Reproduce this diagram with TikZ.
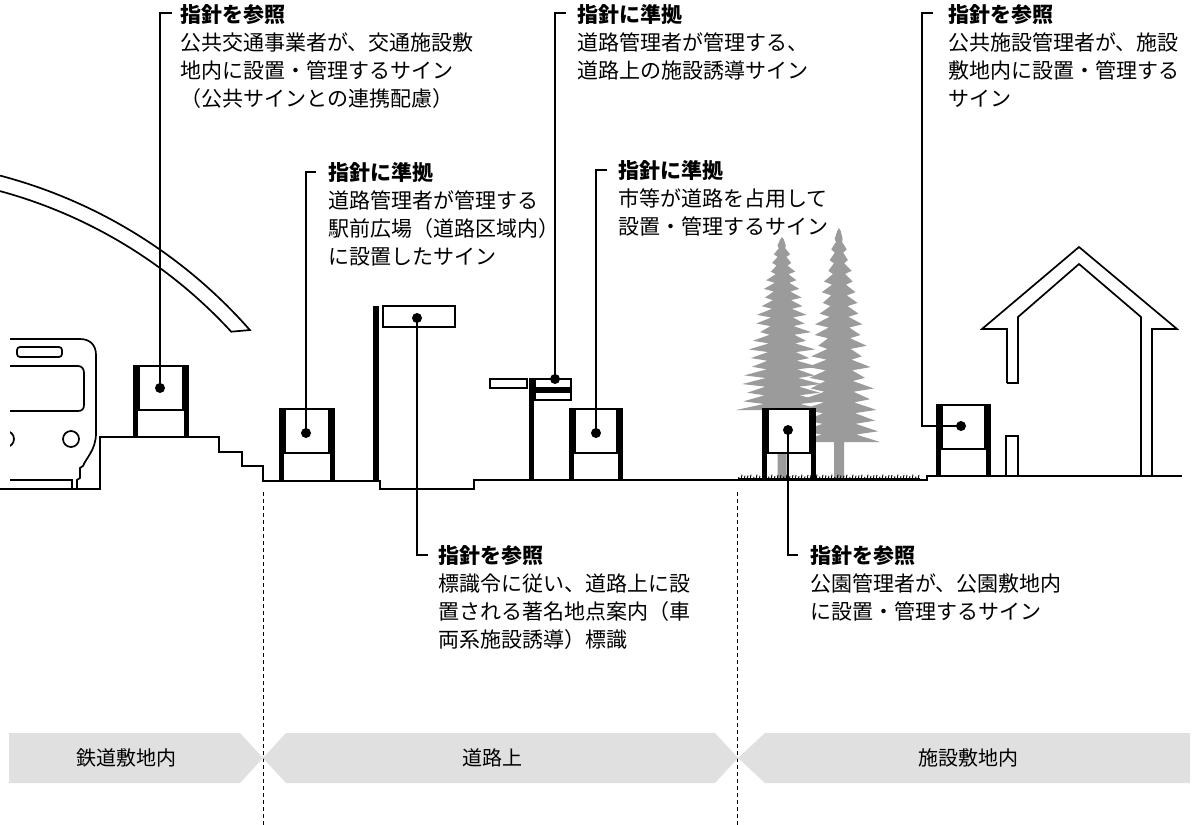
\documentclass[tikz,border=0pt]{standalone}
\usepackage{fontspec}
\newfontfamily\jp{Noto Sans CJK JP}
\definecolor{bandgray}{RGB}{224,224,224}
\definecolor{treegray}{RGB}{155,155,155}

% sign unit: left post x, right post x, top, bottom, panel bottom
\newcommand\signunit[5]{%
  \fill (#1,#3) rectangle ({#1+5},#4);
  \fill ({#2-5},#3) rectangle (#2,#4);
  \draw[panel] ({#1+6},{#3+1}) rectangle ({#2-6},#5);
}
% spruce silhouette: centre x, top, foliage bottom, half width, trunk bottom, trunk half width
\newcommand\spruce[6]{%
  \fill[treegray] (#1,#2)
    \foreach \k in {1,...,20}{
      -- ({#1-0.45*#4*(\k/20)^0.75},{#2+(#3-#2)*(\k-0.7)/20})
      -- ({#1-#4*(\k/20)^0.75*(0.85+0.3*abs(sin(\k*131)))},{#2+(#3-#2)*\k/20})}
    -- ({#1-#6},#3) -- ({#1-#6},#5) -- ({#1+#6},#5) -- ({#1+#6},#3)
    \foreach \k in {20,...,1}{
      -- ({#1+#4*(\k/20)^0.75*(0.85+0.3*abs(cos(\k*97)))},{#2+(#3-#2)*\k/20})
      -- ({#1+0.45*#4*(\k/20)^0.75},{#2+(#3-#2)*(\k-0.7)/20})}
    -- cycle;
}

\begin{document}
\begin{tikzpicture}[x=1pt,y=-1pt,
  outline/.style={line width=1.7pt},
  ground/.style={line width=2pt},
  panel/.style={draw=black,line width=1.7pt,fill=white},
  dot/.style={circle,fill=black,inner sep=0pt,minimum size=10pt},
  leader/.style={line width=1.3pt},
  note/.style={anchor=base west,inner sep=0pt,font=\jp\fontsize{21}{28}\selectfont},
  bandtext/.style={inner sep=0pt,font=\jp\fontsize{20}{24}\selectfont},
  zone/.style={dash pattern=on 4pt off 3pt,line width=0.9pt}
]
\fill[white] (0,0) rectangle (1192,825);
\useasboundingbox (0,0) rectangle (1192,825);

% station canopy
\draw[outline] plot[domain=-75.25:-41.3,samples=70] ({-128+503*cos(\x)},{662+503*sin(\x)})
  -- plot[domain=-42.6:-74.8,samples=70] ({-128+488*cos(\x)},{662+488*sin(\x)});

% train front
\draw[outline] (10,339) -- (80,339) .. controls (90,339) and (96,345) .. (96,355)
  -- (96,433) .. controls (96,450) and (86,458) .. (83,466) -- (80,468) -- (80,478) -- (77,480) -- (77,489);
\draw[outline,rounded corners=3pt] (17,347) rectangle (62,357);
\draw[outline] (10,366) -- (78,366) .. controls (82,366) and (84,369) .. (84,373)
  -- (84,405) .. controls (84,409) and (82,411) .. (78,411) -- (10,411);
\draw[outline] (71,439) circle[radius=8];
\begin{scope}
  \clip (10,425) rectangle (30,455);
  \draw[outline] (6,439) circle[radius=8];
\end{scope}
\draw[outline] (10,480) -- (72,480) -- (72,489);

% trees
\spruce{782}{237}{410}{40}{479}{4.5}
\spruce{839}{228}{442}{38}{479}{5}

% house
\draw[outline] (1007,383) -- (1007,329) -- (982,329) -- (1079,247) -- (1177,329) -- (1152,329) -- (1152,476);
\draw[outline] (1007,383) -- (1018,383) -- (1018,317) -- (1079,264) -- (1141,317) -- (1141,476);
\draw[outline] (1006,476) -- (1006,436) -- (1018,436) -- (1018,476);

% ground profile
\draw[ground] (0,489) -- (100,489) -- (100,437) -- (219,437) -- (219,452) -- (242,452) -- (242,466)
  -- (263,466) -- (263,481) -- (380,481) -- (380,489) -- (474,489) -- (474,480) -- (927,480)
  -- (927,476) -- (1182,476);
% grass
\draw[line width=2.6pt] (738,479.5) -- (920,479.5);
\foreach \i in {0,...,60}{
  \draw[line width=0.9pt] ({738+3*\i},480) -- ({739+3*\i},{477-2.5*abs(sin(\i*73))});
}

% zone boundaries
\draw[zone] (263,492) -- (263,825);
\draw[zone] (737,492) -- (737,825);

% signs
\signunit{133}{189}{365}{437}{410}
\signunit{279}{335}{408}{481}{453}
\signunit{569}{623}{408}{479}{453}
\signunit{762}{816}{408}{479}{453}
\signunit{936}{991}{404}{476}{449}
% large directional sign
\fill (373,306) rectangle (379,481);
\draw[panel] (383,306) rectangle (455,327);
% facility guide sign on pole
\fill (529,378) rectangle (534,479);
\draw[panel] (490,379) rectangle (527,388);
\draw[panel] (535,379) rectangle (571,388);
\fill (534,388) rectangle (572,392);
\draw[panel] (535,392) rectangle (571,400);

% leader end points
\coordinate (t1) at (172,13);
\coordinate (t2) at (316,172);
\coordinate (t3) at (428,555);
\coordinate (t4) at (566,13);
\coordinate (t5) at (607,170);
\coordinate (t6) at (798,555);
\coordinate (t7) at (933,13);
\coordinate (k7) at (922,426);

% dots
\node[dot] (d1) at (160,388) {};
\node[dot] (d2) at (306,433) {};
\node[dot] (d3) at (417,318) {};
\node[dot] (d4) at (555,379) {};
\node[dot] (d5) at (596,433) {};
\node[dot] (d6) at (788,430) {};
\node[dot] (d7) at (961,426) {};

% leaders
\draw[leader] (d1.center) |- (t1);
\draw[leader] (d2.center) |- (t2);
\draw[leader] (d3.center) |- (t3);
\draw[leader] (d4.center) |- (t4);
\draw[leader] (d5.center) |- (t5);
\draw[leader] (d6.center) |- (t6);
\draw[leader] (d7.center) -- (k7) |- (t7);

% notes
\node[note] (n1) at (180,22) {\begin{tabular}[t]{@{}l@{}}\textbf{指針を参照}\\公共交通事業者が、交通施設敷\\地内に設置・管理するサイン\\（公共サインとの連携配慮）\end{tabular}};
\node[note] (n2) at (328,180) {\begin{tabular}[t]{@{}l@{}}\textbf{指針に準拠}\\道路管理者が管理する\\駅前広場（道路区域内）\\に設置したサイン\end{tabular}};
\node[note] (n3) at (438,563) {\begin{tabular}[t]{@{}l@{}}\textbf{指針を参照}\\標識令に従い、道路上に設\\置される著名地点案内（車\\両系施設誘導）標識\end{tabular}};
\node[note] (n4) at (577,22) {\begin{tabular}[t]{@{}l@{}}\textbf{指針に準拠}\\道路管理者が管理する、\\道路上の施設誘導サイン\end{tabular}};
\node[note] (n5) at (618,178) {\begin{tabular}[t]{@{}l@{}}\textbf{指針に準拠}\\市等が道路を占用して\\設置・管理するサイン\end{tabular}};
\node[note] (n6) at (810,563) {\begin{tabular}[t]{@{}l@{}}\textbf{指針を参照}\\公園管理者が、公園敷地内\\に設置・管理するサイン\end{tabular}};
\node[note] (n7) at (948,22) {\begin{tabular}[t]{@{}l@{}}\textbf{指針を参照}\\公共施設管理者が、施設\\敷地内に設置・管理する\\サイン\end{tabular}};

% zone bands
\fill[bandgray] (9,733) -- (240,733) -- (263,758) -- (240,783) -- (9,783) -- cycle;
\fill[bandgray] (286,733) -- (715,733) -- (738,758) -- (715,783) -- (286,783) -- (263,758) -- cycle;
\fill[bandgray] (765,733) -- (1190,733) -- (1190,783) -- (765,783) -- (738,758) -- cycle;
\node[bandtext] (z1) at (126,758) {鉄道敷地内};
\node[bandtext] (z2) at (492,758) {道路上};
\node[bandtext] (z3) at (968,758) {施設敷地内};
\end{tikzpicture}
\end{document}
